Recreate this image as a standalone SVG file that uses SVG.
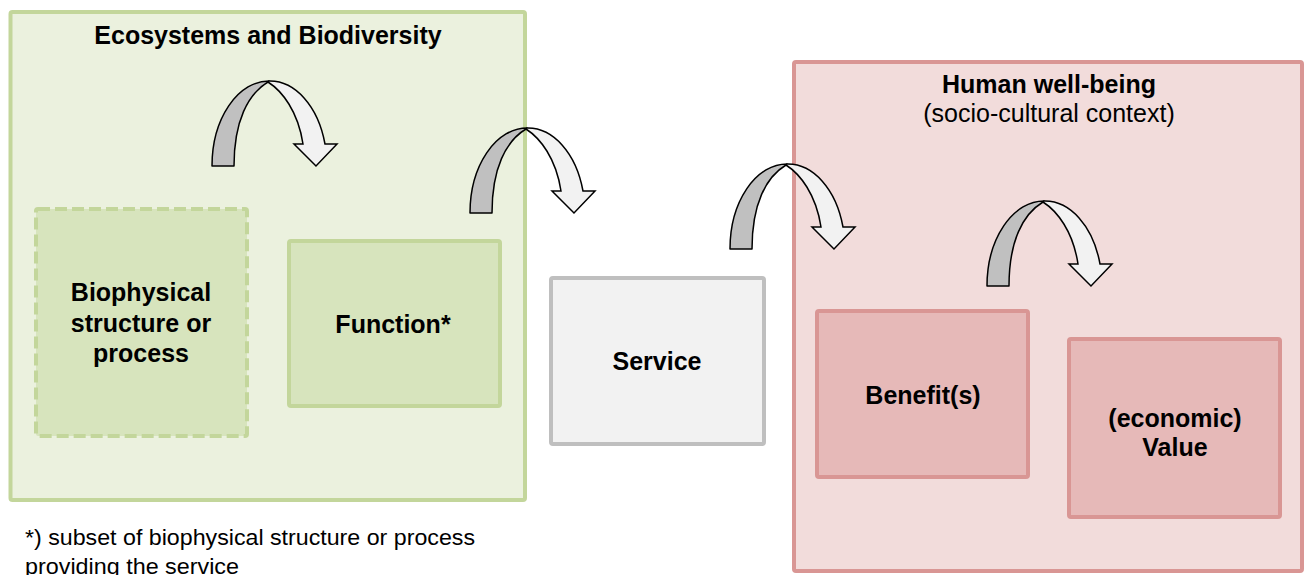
<svg xmlns="http://www.w3.org/2000/svg" xmlns:xlink="http://www.w3.org/1999/xlink" width="1307" height="575" viewBox="0 0 1307 575">
<style>
.lbl{font-family:"Liberation Sans",Arial,sans-serif;font-size:25px;font-weight:bold;fill:#000;text-anchor:middle}
.reg{font-family:"Liberation Sans",Arial,sans-serif;font-size:25px;fill:#000;text-anchor:middle}
.note{font-family:"Liberation Sans",Arial,sans-serif;font-size:22px;fill:#000}
.gcont{fill:#ebf1de;stroke:#c3d69b;stroke-width:4}
.gbox{fill:#d7e4bd;stroke:#c3d69b;stroke-width:4}
.pcont{fill:#f2dcdb;stroke:#d99694;stroke-width:4}
.pbox{fill:#e6b9b8;stroke:#d99694;stroke-width:4}
.sbox{fill:#f2f2f2;stroke:#bfbfbf;stroke-width:4}
.back{fill:#c0c0c0;stroke:#000;stroke-width:1.5;stroke-linejoin:round}
.front{fill:#f2f2f2;stroke:#000;stroke-width:1.5;stroke-linejoin:miter}
</style>
<defs>
<g id="curl">
<path class="back" d="M0,0 A57,85 0 0 1 57,-85 L56,-84 C36,-72 22,-45 22,0 Z"/>
<path class="front" d="M56,-84 L57,-85 A57,85 0 0 1 113,-22 L125,-22 L104,0 L82,-22 L91,-22 C86,-55 70,-75 56,-84 Z"/>
</g>
</defs>
<g id="ecosystems">
<rect class="gcont" x="10.5" y="12" width="514.5" height="488" rx="2"/>
<text class="lbl" x="268" y="44">Ecosystems and Biodiversity</text>
</g>
<g id="human-wellbeing">
<rect class="pcont" x="794" y="62" width="508" height="509" rx="2"/>
<text class="lbl" x="1049" y="93">Human well-being</text>
<text class="reg" x="1049" y="122">(socio-cultural context)</text>
</g>
<g id="biophysical">
<rect class="gbox" x="36" y="209" width="211" height="227" rx="2" stroke-dasharray="12 5"/>
<text class="lbl" x="141" y="301">Biophysical</text>
<text class="lbl" x="141" y="332">structure or</text>
<text class="lbl" x="141" y="362">process</text>
</g>
<g id="function">
<rect class="gbox" x="289" y="241" width="211" height="165" rx="2"/>
<text class="lbl" x="393" y="333">Function*</text>
</g>
<g id="service">
<rect class="sbox" x="551" y="278" width="213" height="166" rx="2"/>
<text class="lbl" x="657" y="370">Service</text>
</g>
<g id="benefits">
<rect class="pbox" x="817" y="311" width="211" height="166" rx="2"/>
<text class="lbl" x="923" y="404">Benefit(s)</text>
</g>
<g id="value">
<rect class="pbox" x="1069" y="339" width="211" height="178" rx="2"/>
<text class="lbl" x="1175" y="427">(economic)</text>
<text class="lbl" x="1175" y="456">Value</text>
</g>
<g id="connectors">
<use xlink:href="#curl" x="212" y="166"/>
<use xlink:href="#curl" x="470" y="213"/>
<use xlink:href="#curl" x="730" y="249"/>
<use xlink:href="#curl" x="987" y="286"/>
</g>
<g id="footnote">
<text class="note" x="25" y="545" textLength="450" lengthAdjust="spacingAndGlyphs">*) subset of biophysical structure or process</text>
<text class="note" x="25" y="574" textLength="214" lengthAdjust="spacingAndGlyphs">providing the service</text>
</g>
</svg>
